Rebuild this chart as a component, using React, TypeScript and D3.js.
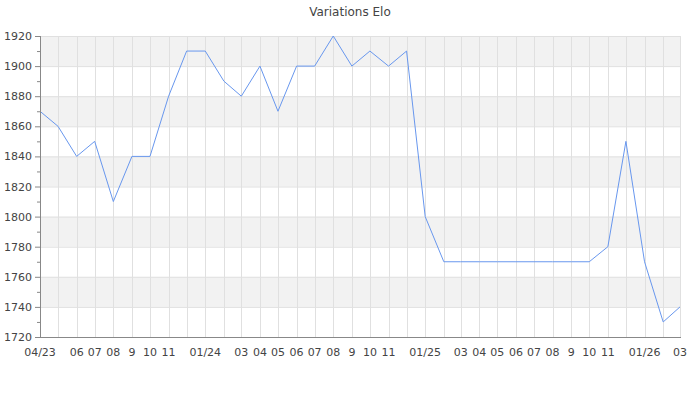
import React from "react";
import * as d3 from "d3";

const months: string[] = [
  "2023-04", "2023-05", "2023-06", "2023-07", "2023-08", "2023-09", "2023-10", "2023-11", "2023-12",
  "2024-01", "2024-02", "2024-03", "2024-04", "2024-05", "2024-06", "2024-07", "2024-08", "2024-09",
  "2024-10", "2024-11", "2024-12", "2025-01", "2025-02", "2025-03", "2025-04", "2025-05", "2025-06",
  "2025-07", "2025-08", "2025-09", "2025-10", "2025-11", "2025-12", "2026-01", "2026-02", "2026-03",
];

const elo: number[] = [
  1870, 1860, 1840, 1850, 1810, 1840, 1840, 1880, 1910,
  1910, 1890, 1880, 1900, 1870, 1900, 1900, 1920, 1900,
  1910, 1900, 1910, 1800, 1770, 1770, 1770, 1770, 1770,
  1770, 1770, 1770, 1770, 1780, 1850, 1770, 1730, 1740,
];

const tickLabels: string[] = [
  "04/23", "", "06", "07", "08", "9", "10", "11", "",
  "01/24", "", "03", "04", "05", "06", "07", "08", "9",
  "10", "11", "", "01/25", "", "03", "04", "05", "06",
  "07", "08", "9", "10", "11", "", "01/26", "", "03",
];

const yTicks: number[] = [1720, 1740, 1760, 1780, 1800, 1820, 1840, 1860, 1880, 1900, 1920];

const title = "Variations Elo";

export default function App() {
  const W = 700;
  const H = 400;
  const left = 40, right = 680, top = 36, bottom = 337;
  const dates = months.map((m) => new Date(m + "-01T00:00:00Z"));
  const x = d3.scaleUtc().domain([dates[0], dates[dates.length - 1]]).range([left, right]);
  const y = d3.scaleLinear().domain([1720, 1920]).range([bottom, top]);
  const line = d3
    .line<number>()
    .x((_, i) => x(dates[i]))
    .y((d) => y(d));
  const minor = d3.range(1730, 1920, 20);
  const font = "DejaVu Sans, sans-serif";

  return (
    <svg
      width={W}
      height={H}
      style={{ position: "absolute", left: 0, top: 0, background: "#fff" }}
      fontFamily={font}
    >
      <text x={W / 2} y={16} textAnchor="middle" fontSize={12} fill="#444">
        {title}
      </text>
      {yTicks.slice(0, -1).map((t, i) =>
        (yTicks.length - 2 - i) % 2 === 0 ? (
          <rect
            key={"b" + t}
            x={left}
            y={y(yTicks[i + 1])}
            width={right - left}
            height={y(t) - y(yTicks[i + 1])}
            fill="#f2f2f2"
          />
        ) : null
      )}
      {yTicks.map((t) => (
        <line key={"h" + t} x1={left} x2={right} y1={y(t) + 0.5} y2={y(t) + 0.5} stroke="#e0e0e0" />
      ))}
      {dates.map((d, i) => (
        <line key={"v" + i} x1={Math.round(x(d)) + 0.5} x2={Math.round(x(d)) + 0.5} y1={top} y2={bottom} stroke="#e0e0e0" />
      ))}
      <path d={line(elo) || ""} fill="none" stroke="#6897ee" strokeWidth={1} />
      <line x1={left + 0.5} x2={left + 0.5} y1={top} y2={bottom + 0.5} stroke="#888" />
      <line x1={left} x2={right + 1} y1={bottom + 0.5} y2={bottom + 0.5} stroke="#888" />
      {yTicks.map((t) => (
        <g key={"yt" + t}>
          <line x1={left - 5} x2={left} y1={y(t) + 0.5} y2={y(t) + 0.5} stroke="#888" />
          <text x={left - 8} y={y(t) + 4} textAnchor="end" fontSize={11} fill="#444">
            {t}
          </text>
        </g>
      ))}
      {minor.map((t) => (
        <line key={"m" + t} x1={left - 3} x2={left} y1={y(t) + 0.5} y2={y(t) + 0.5} stroke="#888" />
      ))}
      {dates.map((d, i) =>
        tickLabels[i] ? (
          <text key={"xt" + i} x={x(d)} y={356} textAnchor="middle" fontSize={11} fill="#444">
            {tickLabels[i]}
          </text>
        ) : null
      )}
    </svg>
  );
}
